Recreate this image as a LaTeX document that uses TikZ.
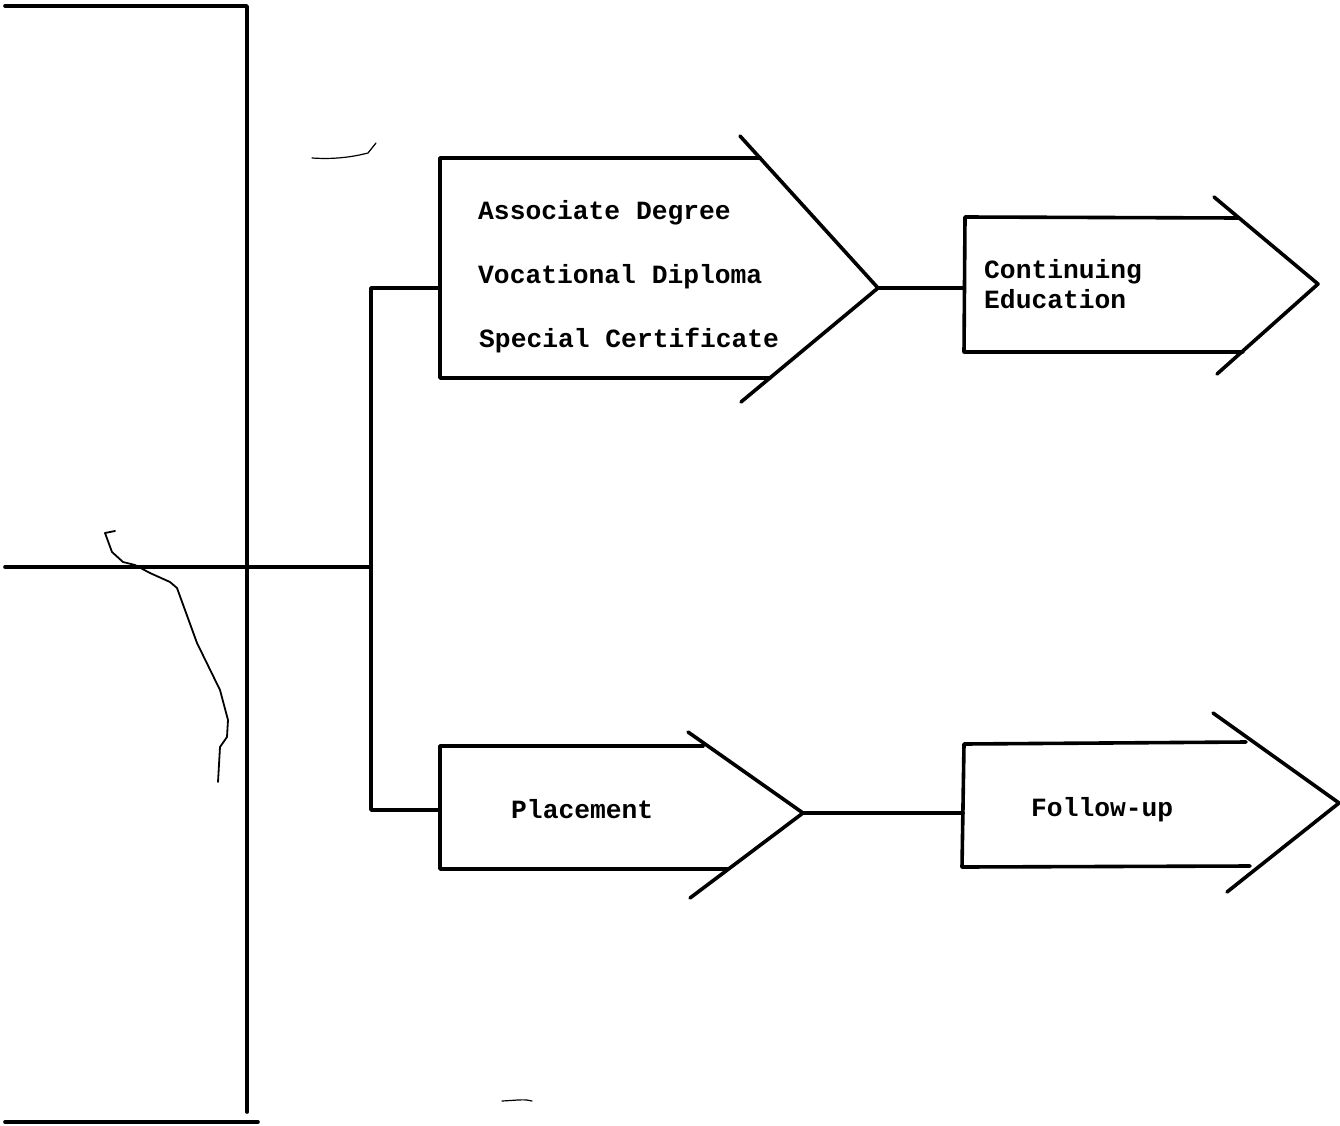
\documentclass[tikz,border=0pt]{standalone}
\usepackage{fontspec}
\setmonofont{Liberation Mono}
\begin{document}
\begin{tikzpicture}[x=1pt,y=-1pt,
  line join=round, line cap=round,
  ln/.style={line width=3.6pt, black},
  lbl/.style={font=\ttfamily\bfseries\fontsize{26.3}{30}\selectfont, anchor=base west, inner sep=0pt},
  scrib/.style={line width=1.8pt, black}]
\useasboundingbox (0,0) rectangle (1340,1126);
\fill[white] (0,0) rectangle (1340,1126);

% big left frame
\coordinate (fTL) at (5,6);
\coordinate (fTR) at (247,6);
\coordinate (fBR) at (247,1112);
\coordinate (fBL) at (5,1122);
\coordinate (fBE) at (258,1122);
\draw[ln] (fTL) -- (fTR) -- (fBR);
\draw[ln] (fBL) -- (fBE);

% main line and hub
\coordinate (mainL) at (5,567);
\coordinate (hub) at (371,567);
\draw[ln] (mainL) -- (hub);

% arrow box 1 (degrees)
\coordinate (A1in) at (440,288);
\coordinate (A1tip) at (878,288);
\draw[ln] (760,158) -- (440,158) -- (440,378) -- (770,378);
\draw[ln] (740,136) -- (A1tip) -- (741,402);
\node[lbl] (t1) at (478,219) {Associate Degree};
\node[lbl] (t2) at (478,283) {Vocational Diploma};
\node[lbl] (t3) at (479,347) {Special Certificate};

% arrow box 2 (continuing education)
\coordinate (B1in) at (964,288);
\coordinate (B1tip) at (1318,284);
\draw[ln] (1238,218) -- (965,217) -- (964,352) -- (1243,352);
\draw[ln] (1214,197) -- (B1tip) -- (1217,374);
\node[lbl] (t4) at (984,278) {Continuing};
\node[lbl] (t5) at (984,308) {Education};

% arrow box 3 (placement)
\coordinate (A2in) at (440,810);
\coordinate (A2tip) at (803,813);
\draw[ln] (703,746) -- (440,746) -- (440,869) -- (727,869);
\draw[ln] (688,732) -- (A2tip) -- (690,898);
\node[lbl] (t6) at (511,818) {Placement};

% arrow box 4 (follow-up)
\coordinate (B2in) at (963,813);
\coordinate (B2tip) at (1339,803);
\draw[ln] (1246,742) -- (964,744) -- (962,867) -- (1250,866);
\draw[ln] (1213,713) -- (B2tip) -- (1227,892);
\node[lbl] (t7) at (1031,816) {Follow-up};

% connectors
\draw[ln] (hub) |- (A1in);
\draw[ln] (hub) |- (A2in);
\draw[ln] (A1tip) -- (B1in);
\draw[ln] (A2tip) -- (B2in);

% hand-drawn scribbles
\draw[scrib] (115,531) -- (105,533) -- (112,552) -- (123,562) -- (135,565) -- (150,573) -- (170,582) -- (177,588)
  -- (197,643) -- (220,690) -- (228,720) -- (227,737) -- (220,747) -- (218,782);
\draw[scrib, line width=1.2pt] (312,158) .. controls (340,160) and (360,155) .. (368,153) -- (376,143);
\draw[scrib, line width=1.2pt] (502,1101) .. controls (520,1100) and (525,1099) .. (532,1101);
\end{tikzpicture}
\end{document}
